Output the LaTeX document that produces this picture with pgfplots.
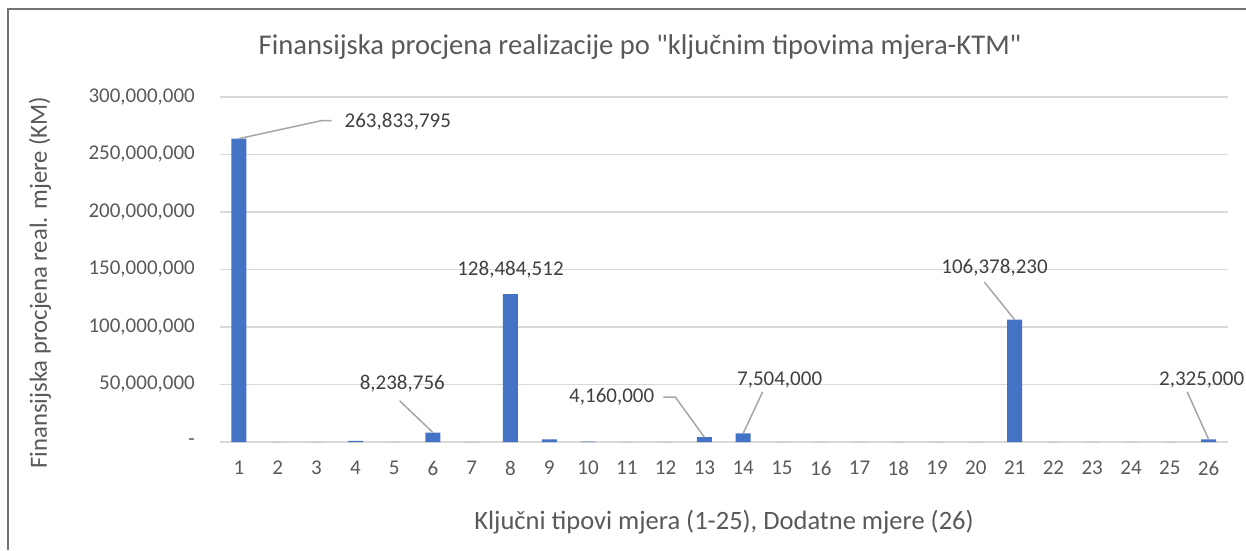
\documentclass[border=0pt]{standalone}
\usepackage{pgfplots}
\pgfplotsset{compat=1.18}
\usepackage{fontspec}
\setmainfont{Carlito}
\definecolor{barblue}{HTML}{4472C4}
\definecolor{gridgray}{HTML}{D9D9D9}
\definecolor{txt}{HTML}{595959}
\definecolor{lbl}{HTML}{404040}
\definecolor{lead}{HTML}{A6A6A6}
\definecolor{framec}{HTML}{767171}
\begin{document}
\begin{tikzpicture}[x=1pt,y=1pt]
\path[use as bounding box] (0,0) rectangle (1246,550);
\begin{axis}[
  at={(219.6pt,108pt)}, anchor=south west,
  scale only axis, width=1008.4pt, height=345pt,
  xmin=0.5, xmax=26.5, ymin=0, ymax=300000000,
  enlarge x limits=false,
  scaled y ticks=false,
  ybar, bar width=15pt,
  axis x line*=bottom, axis y line*=left,
  axis line style={-},
  y axis line style={draw=none},
  x axis line style={draw=gridgray, line width=1.5pt},
  ymajorgrids, grid style={draw=gridgray, line width=1.5pt},
  major tick length=0pt,
  ytick={0,50000000,100000000,150000000,200000000,250000000,300000000},
  yticklabels={{-},{50,000,000},{100,000,000},{150,000,000},{200,000,000},{250,000,000},{300,000,000}},
  xtick={1,...,26},
  xticklabels={1,2,3,4,5,6,7,8,9,10,11,12,13,14,15,16,17,18,19,20,21,22,23,24,25,26},
  /pgf/number format/assume math mode=true,
  yticklabel style={text=txt, font=\fontsize{21}{25}\selectfont, anchor=east, inner sep=0pt, xshift=-24.6pt},
  xticklabel style={text=txt, font=\fontsize{21}{25}\selectfont, anchor=center, inner sep=0pt, yshift=-26pt},
  clip=false,
]
\addplot[fill=barblue, draw=none] coordinates {
 (1,263833795) (2,0) (3,0) (4,900000) (5,0) (6,8238756) (7,0) (8,128484512)
 (9,2300000) (10,300000) (11,0) (12,0) (13,4160000) (14,7504000) (15,0) (16,0)
 (17,0) (18,0) (19,0) (20,0) (21,106378230) (22,0) (23,0) (24,0) (25,0) (26,2325000)};
% leader lines
\draw[lead, line width=1.5pt] (axis cs:1,263833795) -- (axis cs:3.12,279400000) -- (axis cs:3.39,279400000);
\draw[lead, line width=1.5pt] (axis cs:5.14,35900000) -- (axis cs:6,8238756);
\draw[lead, line width=1.5pt] (axis cs:11.94,39100000) -- (axis cs:12.25,39100000) -- (axis cs:13,4160000);
\draw[lead, line width=1.5pt] (axis cs:14.5,43500000) -- (axis cs:14,7504000);
\draw[lead, line width=1.5pt] (axis cs:20.22,139000000) -- (axis cs:21,106378230);
\draw[lead, line width=1.5pt] (axis cs:25.45,43500000) -- (axis cs:26,2325000);
% data labels
\begin{scope}[every node/.style={text=lbl, font=\fontsize{21}{25}\selectfont, inner sep=0pt}]
\node[anchor=west] at (axis cs:3.72,278500000) {263,833,795};
\node at (axis cs:5.21,50400000) {8,238,756};
\node at (axis cs:8.0,149600000) {128,484,512};
\node at (axis cs:10.61,39100000) {4,160,000};
\node at (axis cs:14.94,53900000) {7,504,000};
\node at (axis cs:20.48,151300000) {106,378,230};
\node at (axis cs:25.82,53900000) {2,325,000};
\end{scope}
\end{axis}
\draw[framec, line width=2pt] (8,0) -- (8,541) -- (1246,541);
\node[text=txt, font=\fontsize{28.6}{34}\selectfont, inner sep=0pt] at (640,503) {Finansijska procjena realizacije po \textquotedbl ključnim tipovima mjera-KTM\textquotedbl};
\node[text=txt, font=\fontsize{26.5}{31}\selectfont, inner sep=0pt] at (724,28) {Ključni tipovi mjera (1-25), Dodatne mjere (26)};
\node[text=txt, font=\fontsize{24.7}{29}\selectfont, inner sep=0pt, rotate=90] at (40,267.5) {Finansijska procjena real. mjere (KM)};
\end{tikzpicture}
\end{document}
